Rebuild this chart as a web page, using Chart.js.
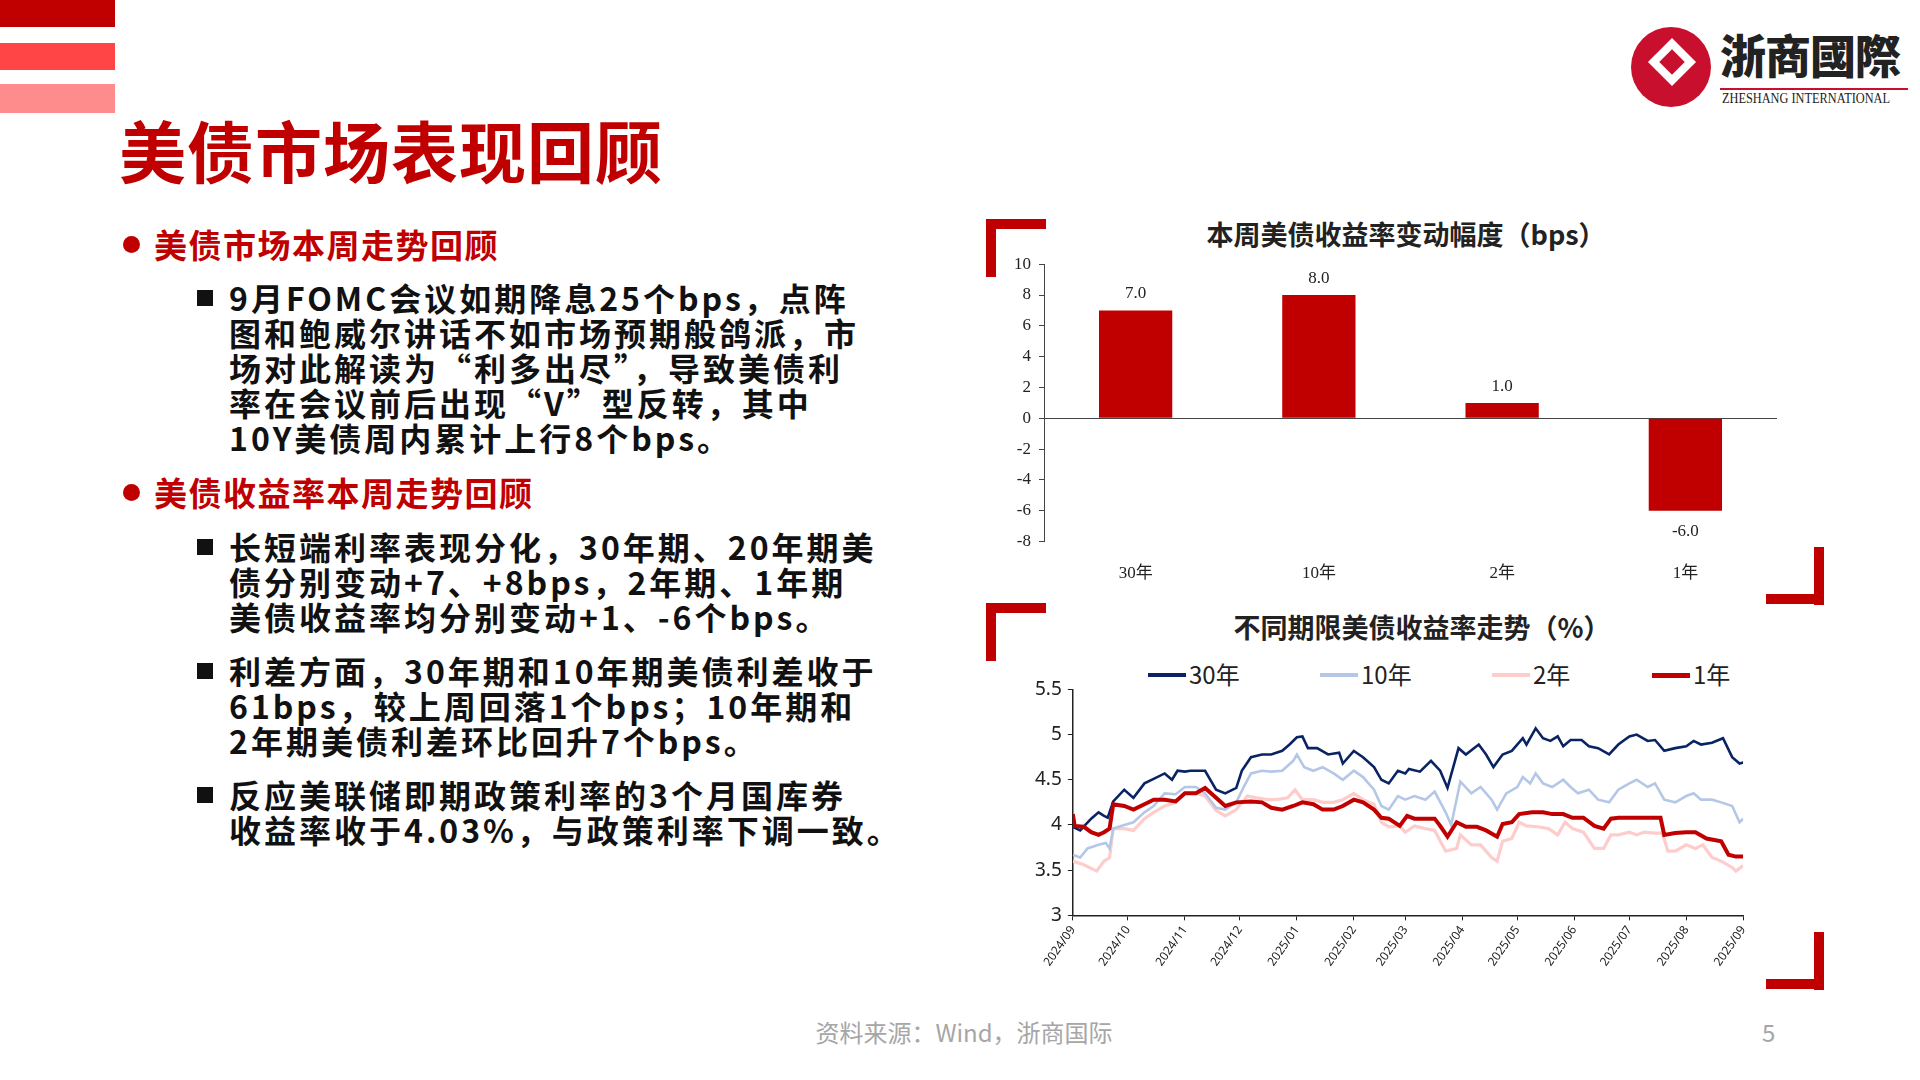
<!DOCTYPE html>
<html><head><meta charset="utf-8">
<script src="https://cdn.jsdelivr.net/npm/chart.js@4"></script>
<style>
body{margin:0;width:1920px;height:1080px;background:#fff;position:relative;overflow:hidden;font-family:"Noto Sans CJK SC","Noto Sans",sans-serif}
.abs{position:absolute}
.blk{position:absolute;left:0;width:115px}
.t{position:absolute;white-space:pre;font-weight:bold;font-size:32px;letter-spacing:3px;color:#111;line-height:35px}
.h{position:absolute;white-space:pre;font-weight:bold;font-size:33px;letter-spacing:1.5px;color:#C00000}
.dot{position:absolute;width:17px;height:17px;border-radius:50%;background:#C00000}
.sq{position:absolute;width:16px;height:16px;background:#111}
.br{position:absolute;background:#C00000}
.ctitle{position:absolute;font-weight:bold;font-size:27px;color:#222;white-space:pre;transform:translateX(-50%)}
.lg{position:absolute;top:656px;font-size:24px;color:#222;white-space:pre}
.lg i{display:inline-block;width:38px;height:4px;vertical-align:middle;margin-right:3px;position:relative;top:-2px}
</style></head><body>
<div class="blk" style="top:0;height:27px;background:#C00000"></div>
<div class="blk" style="top:43px;height:27px;background:#FF4545"></div>
<div class="blk" style="top:84px;height:29px;background:#FF8C8C"></div>
<div class="abs" style="left:119px;top:100px;font-size:67px;font-weight:bold;color:#C00000;letter-spacing:1px">美债市场表现回顾</div>

<div class="abs" style="left:1631px;top:27px;width:80px;height:80px;border-radius:50%;background:#C8102E"></div>
<div class="abs" style="left:1655px;top:45px;width:34px;height:34px;background:#fff;transform:rotate(45deg)"></div>
<div class="abs" style="left:1663px;top:53px;width:18px;height:18px;background:#C8102E;transform:rotate(45deg)"></div>
<div class="abs" style="left:1720px;top:20px;font-family:'Noto Sans CJK TC';font-weight:900;font-size:46px;color:#222;white-space:nowrap;letter-spacing:-1px">浙商國際</div>
<div class="abs" style="left:1720px;top:88px;width:188px;height:2px;background:#C8102E"></div>
<div class="abs" style="left:1722px;top:91px;font-family:'Liberation Serif';font-size:14px;color:#222;white-space:nowrap;transform:scaleX(0.88);transform-origin:left">ZHESHANG INTERNATIONAL</div>

<div class="dot" style="left:123px;top:236px"></div>
<div class="h" style="left:154px;top:220px">美债市场本周走势回顾</div>
<div class="sq" style="left:197px;top:290px"></div>
<div class="t" style="left:229px;top:280px">9月FOMC会议如期降息25个bps，点阵
图和鲍威尔讲话不如市场预期般鸽派，市
场对此解读为“利多出尽”，导致美债利
率在会议前后出现“V”型反转，其中
10Y美债周内累计上行8个bps。</div>
<div class="dot" style="left:123px;top:484px"></div>
<div class="h" style="left:154px;top:468px">美债收益率本周走势回顾</div>
<div class="sq" style="left:197px;top:539px"></div>
<div class="t" style="left:229px;top:529px">长短端利率表现分化，30年期、20年期美
债分别变动+7、+8bps，2年期、1年期
美债收益率均分别变动+1、-6个bps。</div>
<div class="sq" style="left:197px;top:663px"></div>
<div class="t" style="left:229px;top:653px">利差方面，30年期和10年期美债利差收于
61bps，较上周回落1个bps；10年期和
2年期美债利差环比回升7个bps。</div>
<div class="sq" style="left:197px;top:787px"></div>
<div class="t" style="left:229px;top:777px">反应美联储即期政策利率的3个月国库券
收益率收于4.03%，与政策利率下调一致。</div>

<div class="br" style="left:986px;top:219px;width:60px;height:10px"></div>
<div class="br" style="left:986px;top:219px;width:10px;height:58px"></div>
<div class="br" style="left:1814px;top:547px;width:10px;height:58px"></div>
<div class="br" style="left:1766px;top:594px;width:58px;height:10px"></div>
<div class="br" style="left:986px;top:603px;width:60px;height:10px"></div>
<div class="br" style="left:986px;top:603px;width:10px;height:58px"></div>
<div class="br" style="left:1814px;top:932px;width:10px;height:58px"></div>
<div class="br" style="left:1766px;top:979px;width:58px;height:10px"></div>

<div class="ctitle" style="left:1406px;top:214px">本周美债收益率变动幅度（bps）</div>
<div class="ctitle" style="left:1422px;top:607px">不同期限美债收益率走势（%）</div>

<div class="lg" style="left:1148px"><i style="background:#0A2463"></i>30年</div>
<div class="lg" style="left:1320px"><i style="background:#B4C7E7"></i>10年</div>
<div class="lg" style="left:1492px"><i style="background:#FFCCCC"></i>2年</div>
<div class="lg" style="left:1652px"><i style="background:#C00000;height:5px"></i>1年</div>

<div class="abs" style="left:1006px;top:246px;width:775px;height:352px"><canvas id="bar"></canvas></div>
<div class="abs" style="left:1029px;top:672px;width:729px;height:300px"><canvas id="line"></canvas></div>

<div class="abs" style="left:964px;top:1014px;transform:translateX(-50%);font-size:24px;color:#A6A6A6;white-space:pre">资料来源：Wind，浙商国际</div>
<div class="abs" style="left:1762px;top:1014px;font-size:24px;color:#A6A6A6">5</div>

<script>
const barCats = ['30年','10年','2年','1年'];
const barVals = [7.0, 8.0, 1.0, -6.0];

const monthTicks = ['2024/09','2024/10','2024/11','2024/12','2025/01','2025/02','2025/03','2025/04','2025/05','2025/06','2025/07','2025/08','2025/09'];
const monthDays = [0,30,61,91,122,153,181,212,242,273,303,334,365]; // days since 2024-09-01

// [days since 2024-09-01, yield %]
const y30 = [[0,3.98],[4,3.94],[10,4.07],[14,4.14],[17,4.10],[19,4.08],[22,4.26],[28,4.39],[33,4.30],[39,4.46],[44,4.51],[50,4.57],[54,4.50],[57,4.60],[61,4.59],[64,4.60],[70,4.60],[72,4.60],[78,4.39],[83,4.35],[89,4.41],[92,4.60],[97,4.75],[103,4.78],[108,4.78],[114,4.82],[118,4.89],[122,4.97],[125,4.98],[128,4.85],[133,4.85],[139,4.78],[145,4.80],[147,4.68],[153,4.82],[158,4.75],[164,4.64],[168,4.50],[172,4.46],[177,4.60],[181,4.57],[183,4.62],[189,4.59],[195,4.71],[200,4.60],[204,4.41],[210,4.85],[214,4.78],[221,4.89],[225,4.78],[229,4.64],[234,4.78],[239,4.82],[245,4.96],[247,4.89],[252,5.07],[256,4.96],[260,4.93],[264,4.98],[267,4.87],[271,4.94],[277,4.94],[281,4.87],[286,4.85],[292,4.78],[297,4.89],[303,4.98],[307,5.0],[313,4.93],[317,4.94],[322,4.82],[328,4.85],[334,4.87],[338,4.93],[342,4.89],[348,4.91],[354,4.96],[359,4.75],[363,4.68],[365,4.69]];
const y10 = [[0,3.67],[4,3.64],[8,3.74],[14,3.78],[18,3.80],[20,3.74],[22,3.96],[28,4.0],[33,4.03],[39,4.14],[44,4.21],[50,4.35],[56,4.34],[61,4.42],[67,4.42],[72,4.35],[78,4.19],[83,4.17],[89,4.25],[93,4.42],[97,4.57],[103,4.60],[108,4.59],[114,4.60],[120,4.71],[122,4.78],[126,4.64],[131,4.60],[136,4.64],[142,4.57],[147,4.50],[153,4.60],[158,4.53],[164,4.39],[168,4.21],[172,4.17],[177,4.32],[181,4.28],[186,4.32],[192,4.28],[197,4.37],[203,4.14],[206,4.0],[211,4.48],[217,4.35],[222,4.42],[228,4.28],[231,4.17],[236,4.35],[242,4.42],[245,4.53],[249,4.46],[252,4.57],[256,4.46],[261,4.42],[267,4.50],[271,4.42],[275,4.35],[281,4.39],[286,4.28],[292,4.25],[297,4.39],[303,4.46],[307,4.50],[313,4.42],[317,4.46],[322,4.28],[328,4.25],[334,4.32],[338,4.35],[342,4.28],[348,4.28],[353,4.25],[359,4.21],[363,4.03],[365,4.07]];
const y2 = [[0,3.60],[6,3.56],[13,3.49],[17,3.60],[20,3.64],[22,3.96],[28,3.96],[33,3.94],[39,4.07],[44,4.14],[50,4.21],[56,4.25],[61,4.35],[67,4.35],[72,4.32],[78,4.16],[83,4.10],[89,4.17],[95,4.32],[100,4.30],[106,4.28],[111,4.28],[117,4.30],[121,4.39],[125,4.28],[131,4.28],[136,4.25],[142,4.25],[147,4.28],[153,4.35],[158,4.28],[164,4.23],[168,4.03],[172,3.98],[178,3.99],[181,3.92],[186,3.99],[192,3.96],[197,3.94],[203,3.71],[209,3.74],[211,3.89],[217,3.78],[222,3.78],[228,3.64],[231,3.60],[234,3.82],[239,3.85],[243,4.03],[247,3.99],[253,3.98],[259,3.96],[264,3.89],[268,4.03],[272,3.96],[278,3.92],[284,3.74],[289,3.74],[293,3.89],[297,3.89],[303,3.92],[307,3.89],[311,3.92],[317,3.91],[321,3.91],[324,3.71],[328,3.71],[334,3.78],[339,3.74],[343,3.78],[348,3.64],[353,3.60],[359,3.53],[361,3.49],[365,3.55]];
const y1 = [[0,4.12],[1,3.99],[6,3.98],[10,3.92],[14,3.89],[17,3.92],[20,3.96],[22,4.23],[28,4.21],[33,4.17],[39,4.23],[44,4.28],[50,4.28],[56,4.26],[61,4.35],[67,4.35],[72,4.41],[78,4.30],[83,4.21],[89,4.25],[97,4.26],[103,4.25],[108,4.19],[114,4.17],[120,4.21],[125,4.25],[131,4.23],[136,4.17],[142,4.17],[147,4.21],[153,4.28],[158,4.25],[164,4.17],[168,4.08],[172,4.07],[178,3.99],[182,4.10],[186,4.07],[192,4.07],[197,4.07],[200,3.99],[204,3.87],[209,4.03],[214,3.98],[220,3.98],[225,3.94],[231,3.87],[234,4.01],[239,4.03],[243,4.12],[250,4.14],[256,4.14],[261,4.12],[267,4.12],[272,4.08],[278,4.08],[284,3.99],[289,3.96],[293,4.07],[297,4.08],[303,4.08],[309,4.08],[314,4.08],[320,4.08],[322,3.89],[328,3.91],[334,3.92],[339,3.92],[345,3.85],[353,3.82],[357,3.67],[361,3.65],[365,3.65]];

Chart.defaults.animation = false;
Chart.defaults.font.family = "'Noto Sans','Noto Sans CJK SC',sans-serif";

const labelPlugin = {
  id:'vals',
  afterDatasetsDraw(c){
    const ctx=c.ctx, meta=c.getDatasetMeta(0);
    ctx.save(); ctx.font="17px 'Liberation Serif'"; ctx.fillStyle='#222'; ctx.textAlign='center';
    meta.data.forEach((b,i)=>{
      const v=barVals[i];
      if(v>=0){ctx.textBaseline='bottom'; ctx.fillText(v.toFixed(1), b.x, b.y-8);}
      else {ctx.textBaseline='top'; ctx.fillText(v.toFixed(1), b.x, b.y+12);}
    });
    ctx.restore();
  }
};

new Chart(document.getElementById('bar'),{
  type:'bar',
  data:{labels:barCats,datasets:[{data:barVals,backgroundColor:'#C00000',categoryPercentage:1,barPercentage:0.4}]},
  options:{responsive:true,maintainAspectRatio:false,
    layout:{padding:{top:5,right:4}},
    plugins:{legend:{display:false},tooltip:{enabled:false}},
    scales:{
      y:{min:-8,max:10,ticks:{stepSize:2,color:'#222',font:{family:"'Liberation Serif'",size:17},padding:8},
        border:{display:true,color:'#444',width:1},
        grid:{drawOnChartArea:true,drawTicks:true,tickLength:5,tickColor:'#444',color:(ctx)=>ctx.tick&&ctx.tick.value===0?'#444':'transparent'}},
      x:{ticks:{color:'#222',font:{family:"'Liberation Serif','Noto Sans CJK SC'",size:17},padding:14},border:{display:false},grid:{display:false}}
    }},
  plugins:[labelPlugin]
});

const mk=(arr)=>arr.map(p=>({x:p[0],y:p[1]}));
new Chart(document.getElementById('line'),{
  type:'line',
  data:{datasets:[
    {label:'30年',data:mk(y30),borderColor:'#0A2463',borderWidth:2.6,pointRadius:0,order:2},
    {label:'10年',data:mk(y10),borderColor:'#B4C7E7',borderWidth:2.6,pointRadius:0,order:3},
    {label:'2年',data:mk(y2),borderColor:'#FFCCCC',borderWidth:3.2,pointRadius:0,order:4},
    {label:'1年',data:mk(y1),borderColor:'#C00000',borderWidth:4,pointRadius:0,order:1}
  ]},
  options:{responsive:true,maintainAspectRatio:false,
    layout:{padding:{right:8}},
    plugins:{tooltip:{enabled:false},legend:{display:false}},
    scales:{
      x:{type:'linear',min:0,max:365,
        afterBuildTicks(ax){ax.ticks=monthDays.map(v=>({value:v}));},
        ticks:{autoSkip:false,maxRotation:55,minRotation:55,color:'#222',font:{size:12},
          callback:(v)=>{const i=monthDays.indexOf(v);return i>=0?monthTicks[i]:'';}},
        border:{display:true,color:'#222',width:1.5},grid:{drawOnChartArea:false,tickLength:5,tickColor:'#222'}},
      y:{min:3,max:5.5,ticks:{stepSize:0.5,color:'#222',font:{size:19},padding:6,callback:(v)=>String(+v.toFixed(1))},
        border:{display:true,color:'#222',width:1.5},grid:{drawOnChartArea:false,tickLength:5,tickColor:'#222'}}
    }}
});
</script>
</body></html>
